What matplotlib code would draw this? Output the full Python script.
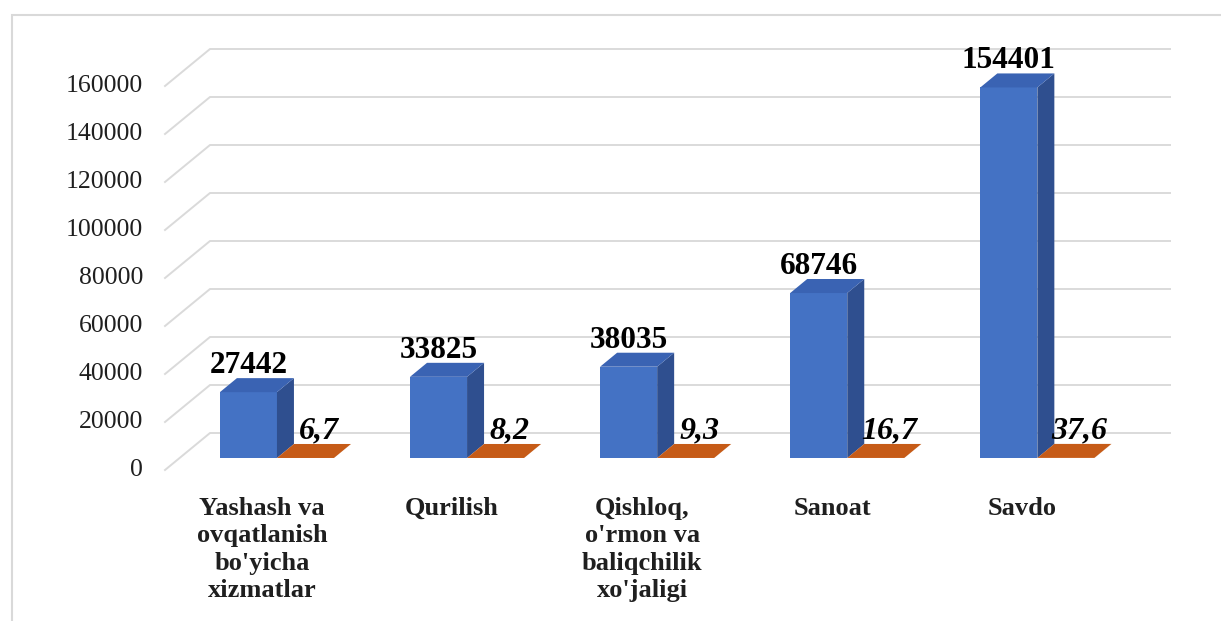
import matplotlib.pyplot as plt
from matplotlib.patches import Polygon, Rectangle

# данные
categories = ["Yashash va\novqatlanish\nbo'yicha\nxizmatlar", "Qurilish",
              "Qishloq,\no'rmon va\nbaliqchilik\nxo'jaligi", "Sanoat", "Savdo"]
counts = [27442, 33825, 38035, 68746, 154401]
shares = [6.7, 8.2, 9.3, 16.7, 37.6]
share_labels = ["6,7", "8,2", "9,3", "16,7", "37,6"]
y_ticks = [0, 20000, 40000, 60000, 80000, 100000, 120000, 140000, 160000]

plt.rcParams['font.family'] = ['Liberation Serif', 'DejaVu Serif']

W, H = 1221, 621
fig = plt.figure(figsize=(W / 100, H / 100), dpi=100)
ax = fig.add_axes([180 / W, (H - 458) / H, 960 / W, 408 / H])
ax.set_xlim(-0.51, 4.54)
ax.set_ylim(0, 170000)
ax.axis('off')

# рамка вокруг диаграммы
fig.add_artist(Rectangle((12 / W, -0.1), 1.2, (H - 15) / H + 0.1, transform=fig.transFigure,
                         fill=False, edgecolor='#D9D9D9', lw=1.5))

BAR_D = (17, 14)     # глубина столбца в пикселях
WALL = (30, 25)      # задняя стенка
FRONT = (-15, -12)   # передний край


def shift(x, y, dx, dy):
    X, Y = ax.transData.transform((x, y))
    return ax.transData.inverted().transform((X + dx, Y + dy))


x0, x1 = ax.get_xlim()

# сетка
for v in y_ticks:
    a = shift(x0, v, *FRONT)
    b = shift(x0, v, *WALL)
    c = shift(x1, v, *WALL)
    ax.plot([a[0], b[0], c[0]], [a[1], b[1], c[1]], color='#DADADA', lw=1.4,
            zorder=1, clip_on=False)
    t = shift(x0, v, FRONT[0] - 22, FRONT[1])
    ax.text(t[0], t[1], str(v), ha='right', va='center', fontsize=18.5, color='#1f1f1f')

w = 0.3
xs = list(range(len(categories)))


def box(x_left, x_right, top, side, lid):
    ax.add_patch(Polygon([(x_right, 0), (x_right, top), shift(x_right, top, *BAR_D),
                          shift(x_right, 0, *BAR_D)], closed=True, color=side, zorder=3, lw=0))
    ax.add_patch(Polygon([(x_left, top), (x_right, top), shift(x_right, top, *BAR_D),
                          shift(x_left, top, *BAR_D)], closed=True, color=lid, zorder=3, lw=0))


ax.bar([x - w / 2 for x in xs], counts, width=w, color='#4472C4', zorder=3, lw=0)
ax.bar([x + w / 2 for x in xs], shares, width=w, color='#C55A11', zorder=3, lw=0)

for x, v, s, sl, cat in zip(xs, counts, shares, share_labels, categories):
    box(x - w, x, v, '#2F4F8F', '#3A63B3')
    box(x, x + w, s, '#A34A0E', '#C65B17')

    p = shift(x - w / 2, v, 0, BAR_D[1] + 5)
    ax.text(p[0], p[1], str(v), ha='center', va='baseline', fontsize=22.5,
            fontweight='bold', color='black', zorder=5)

    q = shift(x + w / 2, s, BAR_D[0] / 2 + 5, BAR_D[1] + 6)
    ax.text(q[0], q[1], sl, ha='center', va='baseline', fontsize=23,
            fontweight='bold', fontstyle='italic', color='black', zorder=5)

    c = shift(x, 0, FRONT[0], -39)
    ax.text(c[0], c[1], cat, ha='center', va='top', fontsize=19, fontweight='bold',
            linespacing=1.24, color='#1f1f1f')

fig.savefig('out.png', dpi=100, facecolor='white')
